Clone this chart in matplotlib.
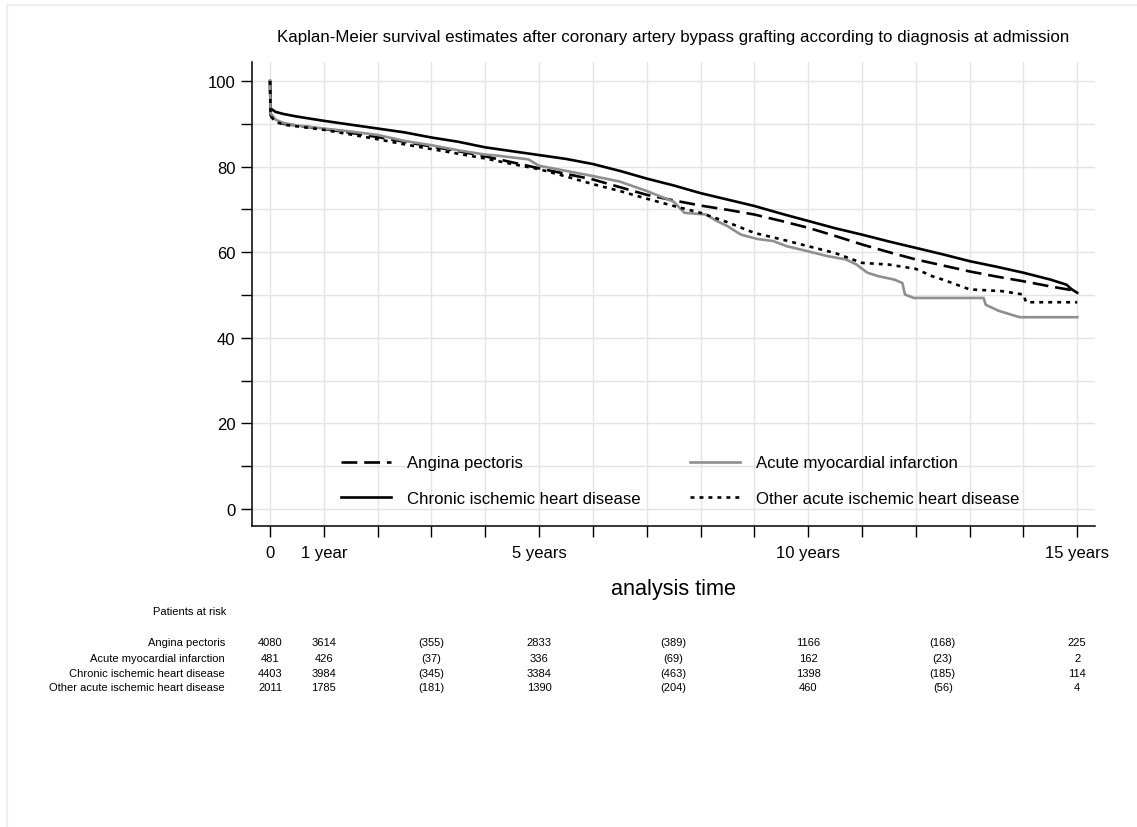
"""
Kaplan-Meier survival after CABG by diagnosis at admission, with a
patients-at-risk table underneath (Stata sts graph look).
"""

import matplotlib
matplotlib.use("Agg")  # headless
import matplotlib.pyplot as plt
import matplotlib.transforms as mtransforms
from matplotlib.patches import Rectangle

plt.rcParams["font.family"] = ["Liberation Sans", "DejaVu Sans"]

# survival estimates (%), time in years
angina_t = [0, 0.01, 0.1, 0.25, 0.5, 1, 1.5, 2, 2.5, 3, 3.5, 4, 4.5, 5, 5.5, 6,
            6.5, 7, 7.5, 8, 8.5, 9, 9.5, 10, 10.5, 11, 11.5, 12, 12.5, 13, 13.5,
            14, 14.5, 15]
angina_s = [100, 92.0, 90.8, 90.0, 89.6, 88.8, 87.9, 86.9, 85.8, 84.7, 83.6,
            82.4, 81.0, 79.6, 78.3, 77.0, 75.2, 73.4, 72.1, 70.9, 69.9, 68.8,
            67.3, 65.7, 63.8, 61.8, 60.0, 58.3, 56.9, 55.5, 54.3, 53.2, 52.0,
            50.9]

ami_t = [0, 0.01, 0.1, 0.25, 0.5, 1, 1.5, 2, 2.5, 3, 3.5, 4, 4.2, 4.8, 5, 5.5,
         6, 6.5, 7, 7.5, 7.7, 8.1, 8.3, 8.5, 8.75, 9.05, 9.35, 9.6, 10, 10.35,
         10.7, 10.9, 11.1, 11.3, 11.6, 11.75, 11.8, 11.96, 13.26, 13.3, 13.54,
         13.93, 15]
ami_s = [100, 92.5, 91.0, 90.2, 89.6, 88.9, 88.2, 87.4, 86.0, 85.0, 83.8, 82.8,
         82.6, 81.7, 80.2, 79.0, 77.8, 76.5, 74.3, 71.8, 69.2, 68.8, 67.3,
         66.1, 64.1, 63.1, 62.6, 61.4, 60.2, 59.1, 58.3, 57.1, 55.2, 54.4,
         53.6, 52.8, 50.1, 49.3, 49.3, 47.7, 46.3, 44.8, 44.8]

chronic_t = [0, 0.01, 0.1, 0.25, 0.5, 1, 1.5, 2, 2.5, 3, 3.5, 4, 4.5, 5, 5.5,
             6, 6.5, 7, 7.5, 8, 8.5, 9, 9.5, 10, 10.5, 11, 11.5, 12, 12.5, 13,
             13.5, 14, 14.5, 14.8, 14.9, 15]
chronic_s = [100, 93.6, 92.8, 92.3, 91.7, 90.7, 89.8, 88.9, 88.0, 86.8, 85.8,
             84.5, 83.6, 82.7, 81.8, 80.6, 79.0, 77.2, 75.6, 73.8, 72.3, 70.8,
             69.0, 67.3, 65.6, 64.1, 62.5, 61.0, 59.5, 57.9, 56.6, 55.2, 53.6,
             52.4, 51.3, 50.5]

other_t = [0, 0.01, 0.1, 0.25, 0.5, 1, 1.5, 2, 2.5, 3, 3.5, 4, 4.5, 5, 5.5, 6,
           6.5, 7, 7.5, 8, 8.5, 9, 9.5, 10, 10.5, 11, 11.5, 12, 12.3, 12.5, 13,
           13.6, 14.0, 14.05, 15]
other_s = [100, 91.8, 90.5, 89.8, 89.4, 88.6, 87.5, 86.4, 85.2, 84.1, 83.0,
           81.9, 80.6, 79.4, 77.7, 75.9, 74.3, 72.5, 70.8, 69.2, 67.0, 64.5,
           63.0, 61.4, 59.8, 57.5, 57.1, 56.1, 54.4, 53.6, 51.3, 50.9, 50.1,
           48.3, 48.3]

# patients at risk table
groups = ["Angina pectoris", "Acute myocardial infarction",
          "Chronic ischemic heart disease", "Other acute ischemic heart disease"]
risk_times = [0, 1, 3, 5, 7.5, 10, 12.5, 15]
risk_rows = [
    ["4080", "3614", "(355)", "2833", "(389)", "1166", "(168)", "225"],
    ["481", "426", "(37)", "336", "(69)", "162", "(23)", "2"],
    ["4403", "3984", "(345)", "3384", "(463)", "1398", "(185)", "114"],
    ["2011", "1785", "(181)", "1390", "(204)", "460", "(56)", "4"],
]

x_ticks = list(range(16))
x_labels = {0: "0", 1: "1 year", 5: "5 years", 10: "10 years", 15: "15 years"}

W, H = 1137, 828
fig = plt.figure(figsize=(W / 100, H / 100), dpi=100)
fig.patches.append(Rectangle((7 / W, -0.1), 1.2, 1 - 6 / H + 0.1,
                             transform=fig.transFigure, fill=False,
                             edgecolor="#e6eff0", linewidth=1.2))

ax = fig.add_axes([252 / W, 1 - 527 / H, (1095 - 252) / W, (527 - 63) / H])

lw = 1.9
ax.plot(angina_t, angina_s, color="black", lw=lw, dashes=(6, 2.6),
        label="Angina pectoris")
ax.plot(chronic_t, chronic_s, color="black", lw=lw,
        label="Chronic ischemic heart disease")
ax.plot(ami_t, ami_s, color="#8f8f8f", lw=lw,
        label="Acute myocardial infarction")
ax.plot(other_t, other_s, color="black", lw=lw, dashes=(1.5, 1.9),
        label="Other acute ischemic heart disease")

ax.set_xlim(-0.335, 15.33)
ax.set_ylim(-4.0, 104.45)
ax.set_xticks(x_ticks)
ax.set_xticklabels([x_labels.get(t, "") for t in x_ticks])
ax.set_yticks([0, 20, 40, 60, 80, 100])
ax.set_yticks(range(10, 100, 20), minor=True)
ax.tick_params(axis="both", which="both", length=8, width=1, labelsize=12,
               color="black")
ax.tick_params(axis="y", pad=4)
ax.tick_params(axis="x", pad=6)

ax.grid(True, which="both", color="#e4e4e4", linewidth=1)
ax.set_axisbelow(True)
for side in ("top", "right"):
    ax.spines[side].set_visible(False)
for side in ("left", "bottom"):
    ax.spines[side].set_linewidth(1.1)

ax.set_xlabel("analysis time", fontsize=15.6, labelpad=13)
ax.set_title("Kaplan-Meier survival estimates after coronary artery bypass "
             "grafting according to diagnosis at admission",
             fontsize=12.2, pad=15)

ax.legend(ncol=2, loc="center", bbox_to_anchor=(0.508, 0.098), frameon=False,
          fontsize=12.1, handlelength=2.97, handletextpad=1.0,
          columnspacing=2.9, labelspacing=1.2)

# risk table under the axis, columns on the time scale
fig.text(190 / W, 1 - 612 / H, "Patients at risk", fontsize=8,
         ha="center", va="center")
trans = mtransforms.blended_transform_factory(ax.transData, fig.transFigure)
row_y = [643, 659, 674, 688]
for name, counts, yp in zip(groups, risk_rows, row_y):
    fig.text(225 / W, 1 - yp / H, name, fontsize=8, ha="right", va="center")
    for t, c in zip(risk_times, counts):
        fig.text(t, 1 - yp / H, c, fontsize=8, ha="center", va="center",
                 transform=trans)

fig.savefig("out.png", dpi=100)
